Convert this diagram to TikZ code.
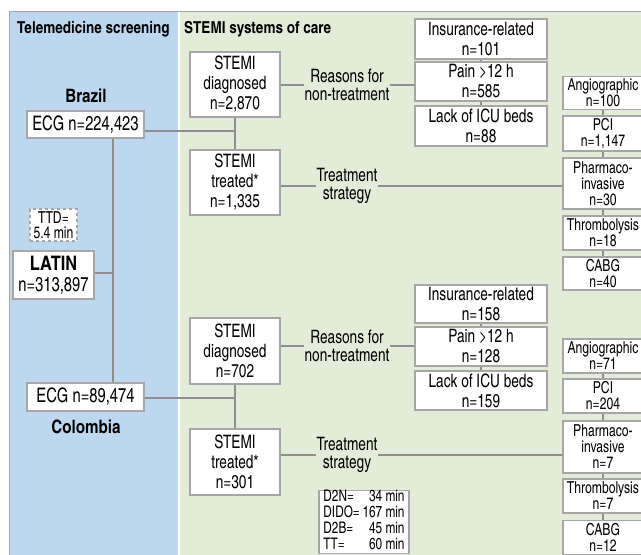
\documentclass[tikz,border=0pt]{standalone}
\usepackage{fontspec}
\setmainfont{texgyreheroscn}[Extension=.otf,UprightFont=*-regular,BoldFont=*-bold,
  UprightFeatures={FakeStretch=0.9}]
\usepackage{tikz}
\definecolor{telblue}{HTML}{BDD7EE}
\definecolor{caregreen}{HTML}{E3ECD9}
\definecolor{boxgray}{HTML}{A6A6A6}
\definecolor{linegray}{HTML}{8E8E8E}
\tikzset{
  box/.style={draw=boxgray, line width=1.2pt, fill=white, inner sep=0pt, align=center,
    font=\fontsize{18.5}{20}\selectfont},
  sbox/.style={box, font=\fontsize{16.5}{16}\selectfont},
  lbl/.style={inner sep=0pt, align=center, font=\fontsize{18.5}{18.5}\selectfont},
  hdr/.style={inner sep=0pt, anchor=west, font=\fontsize{16.5}{18}\selectfont\bfseries},
  link/.style={draw=linegray, line width=1.5pt},
}

\begin{document}
\begin{tikzpicture}[x=1pt,y=-1pt]
\useasboundingbox (0,0) rectangle (641,555);
\clip (0,0) rectangle (641,555);
\fill[telblue] (9,11) rectangle (178,570);
\fill[caregreen] (180,11) rectangle (660,570);
\draw[boxgray] (9,11) rectangle (660,570);
\node[hdr] (telehdr) at (17,29) {Telemedicine screening};
\node[hdr] (carehdr) at (184,29) {STEMI systems of care};

% screening column
\node[lbl, font=\fontsize{18.5}{20}\selectfont\bfseries] (brazil) at (86,96) {Brazil};
\node[box, font=\fontsize{20}{20}\selectfont, minimum width=117pt, minimum height=27pt] (ecgB) at (85.5,124.5) {ECG n=224,423};
\node[box, dashed, font=\fontsize{16.5}{15.5}\selectfont, minimum width=47pt, minimum height=32pt] (ttd) at (53.5,225) {TTD=\\5.4 min};
\node[box, font=\fontsize{20}{21}\selectfont, minimum width=81pt, minimum height=48pt] (latin) at (53.5,275) {\textbf{LATIN}\\n=313,897};
\node[box, font=\fontsize{20}{20}\selectfont, minimum width=117pt, minimum height=28pt] (ecgC) at (85.5,397) {ECG n=89,474};
\node[lbl, font=\fontsize{18.5}{20}\selectfont\bfseries] (colombia) at (86,427) {Colombia};
\coordinate (spine) at (113,273);
\draw[link] (ecgB.south -| spine) -- (ecgC.north -| spine);
\draw[link] (latin.east |- spine) -- (spine);

% Brazil
\node[box, minimum width=90pt, minimum height=65pt] (diagB) at (235,84.5) {STEMI\\diagnosed\\n=2,870};
\node[box, minimum width=90pt, minimum height=65pt] (treatB) at (235,182.5) {STEMI\\treated*\\n=1,335};
\node[lbl] (whyB) at (347,85) {Reasons for\\non-treatment};
\node[lbl] (stratB) at (347,186) {Treatment\\strategy};
\node[box, minimum width=132pt, minimum height=40pt] (insB) at (481,39) {Insurance-related\\n=101};
\node[box, minimum width=132pt, minimum height=39pt] (painB) at (481,81.5) {Pain >12 h\\n=585};
\node[box, minimum width=132pt, minimum height=40pt] (lackB) at (481,126) {Lack of ICU beds\\n=88};
\node[sbox, minimum width=80pt, minimum height=33pt] (angB) at (603,93) {Angiographic\\n=100};
\node[sbox, minimum width=80pt, minimum height=35pt] (pciB) at (603,133.5) {PCI\\n=1,147};
\node[sbox, minimum width=80pt, minimum height=51pt] (phB) at (603,183.5) {Pharmaco-\\invasive\\n=30};
\node[sbox, minimum width=80pt, minimum height=34pt] (thrB) at (603,233) {Thrombolysis\\n=18};
\node[sbox, minimum width=80pt, minimum height=33pt] (cabB) at (603,273.5) {CABG\\n=40};
\coordinate (jB) at (235,131);
\draw[link] (diagB) -- (treatB);
\draw[link] (ecgB.east |- jB) -- (jB);
\draw[link] (diagB.east |- whyB) -- (whyB.west);
\draw[link] (whyB.east) -- (whyB.east -| painB.west);
\draw[link] (treatB.east |- stratB) -- (stratB.west);
\draw[link] (stratB.east) -- (stratB.east -| phB.west);

% Colombia
\node[box, minimum width=90pt, minimum height=66pt] (diagC) at (235,351) {STEMI\\diagnosed\\n=702};
\node[box, minimum width=90pt, minimum height=66pt] (treatC) at (235,462) {STEMI\\treated*\\n=301};
\node[lbl] (whyC) at (347,346) {Reasons for\\non-treatment};
\node[lbl] (stratC) at (347,455) {Treatment\\strategy};
\node[box, minimum width=132pt, minimum height=38pt] (insC) at (481,304) {Insurance-related\\n=158};
\node[box, minimum width=132pt, minimum height=39pt] (painC) at (481,346.5) {Pain >12 h\\n=128};
\node[box, minimum width=132pt, minimum height=39pt] (lackC) at (481,390.5) {Lack of ICU beds\\n=159};
\node[sbox, minimum width=80pt, minimum height=34pt] (angC) at (603,356) {Angiographic\\n=71};
\node[sbox, minimum width=80pt, minimum height=34pt] (pciC) at (603,396) {PCI\\n=204};
\node[sbox, minimum width=80pt, minimum height=52pt] (phC) at (603,447) {Pharmaco-\\invasive\\n=7};
\node[sbox, minimum width=80pt, minimum height=34pt] (thrC) at (603,496) {Thrombolysis\\n=7};
\node[sbox, minimum width=80pt, minimum height=34pt] (cabC) at (603,537.5) {CABG\\n=12};
\node[box, font=\fontsize{16}{14.5}\selectfont, minimum width=90pt, minimum height=62pt] (timesC) at (364,522)
  {\begin{tabular}{@{}l@{\,}r@{}}D2N= & 34 min\\DIDO= & 167 min\\D2B= & 45 min\\TT= & 60 min\end{tabular}};
\coordinate (jC) at (235,398);
\draw[link] (diagC) -- (treatC);
\draw[link] (ecgC.east |- jC) -- (jC);
\draw[link] (diagC.east |- whyC) -- (whyC.west);
\draw[link] (whyC.east) -- (whyC.east -| painC.west);
\draw[link] (treatC.east |- stratC) -- (stratC.west);
\draw[link] (stratC.east) -- (stratC.east -| phC.west);

\foreach \a/\b in {insB/painB, painB/lackB, angB/pciB, pciB/phB, phB/thrB, thrB/cabB,
                   insC/painC, painC/lackC, angC/pciC, pciC/phC, phC/thrC, thrC/cabC}
  \draw[link] (\a) -- (\b);
\end{tikzpicture}
\end{document}
